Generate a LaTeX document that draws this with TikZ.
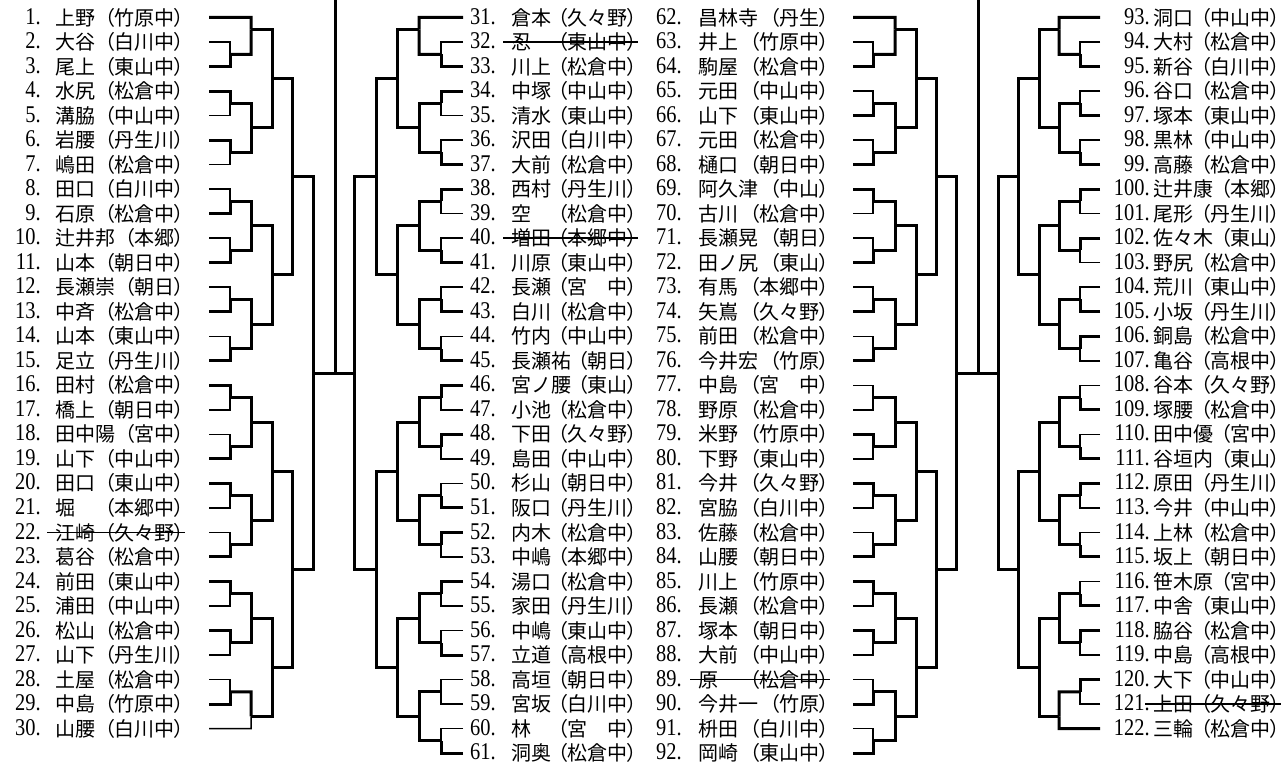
\documentclass[tikz,border=0pt]{standalone}
\usepackage{fontspec}
\setmainfont{Liberation Serif}
\newfontfamily\jpf{Noto Sans CJK JP}
\newfontfamily\jpp[RawFeature=+palt]{Noto Sans CJK JP}
\usetikzlibrary{calc}
\tikzset{
  thk/.style={line width=1.5pt},
  thn/.style={line width=0.75pt},
  numtxt/.style={anchor=east, inner sep=0pt, font=\fontsize{12}{12}\selectfont, text height=0.66em, text depth=0pt},
  nametxt/.style={anchor=west, inner sep=0pt, font=\jpf\fontsize{10}{12}\selectfont, text height=0.83em, text depth=0.07em},
  afftxt/.style={anchor=east, inner sep=0pt, font=\jpf\fontsize{10}{12}\selectfont, text height=0.83em, text depth=0.07em},
  strike/.style={line width=0.7pt}
}
% join: [#1 position of output between the two children], #2 name, #3 child a, #4 child b, #5 x,
% #6 flag (0 both thin, 1 a thick, 2 b thick, 3 both thick)
\newcommand\bj[6][0.5]{%
  \coordinate (x#2) at (#5,0);
  \coordinate (#2) at ($(#3 -| x#2)!#1!(#4 -| x#2)$);
  \ifcase#6 \tikzset{bja/.style=thn,bjb/.style=thn}\or
    \tikzset{bja/.style=thk,bjb/.style=thn}\or
    \tikzset{bja/.style=thn,bjb/.style=thk}\else
    \tikzset{bja/.style=thk,bjb/.style=thk}\fi
  \draw[bja] (#3) -- (#3 -| x#2) -- (#2);
  \draw[bjb] (#4) -- (#4 -| x#2) -- (#2);
}
% entries: #1 first index, #2 x number, #3 x name, #4 x aff end, #5 x leaf, #6 list
\newcommand\qtr[6]{%
  \foreach \i/\nm/\af in {#6} {
    \pgfmathsetmacro\yy{17.5+(\i-#1)*24.52}
    \node[numtxt] (n\i) at (#2,\yy) {\scalebox{0.85}[1]{\i.}};
    \node[nametxt] (m\i) at (#3,\yy) {\nm};
    \node[afftxt] (a\i) at (#4,\yy) {{\jpp（}\af{\jpp）}};
    \coordinate (L\i) at (#5,\yy);
  }}
\begin{document}
\begin{tikzpicture}[x=0.5pt,y=-0.5pt]
\useasboundingbox (0,0) rectangle (1283,765);
\fill[white] (0,0) rectangle (1283,765);

\qtr{1}{41}{55}{185}{209}{1/上野/竹原中,2/大谷/白川中,3/尾上/東山中,4/水尻/松倉中,5/溝脇/中山中,6/岩腰/丹生川,7/嶋田/松倉中,8/田口/白川中,9/石原/松倉中,10/辻井邦/本郷,11/山本/朝日中,12/長瀬崇/朝日,13/中斉/松倉中,14/山本/東山中,15/足立/丹生川,16/田村/松倉中,17/橋上/朝日中,18/田中陽/宮中,19/山下/中山中,20/田口/東山中,21/堀/本郷中,22/江崎/久々野,23/葛谷/松倉中,24/前田/東山中,25/浦田/中山中,26/松山/松倉中,27/山下/丹生川,28/土屋/松倉中,29/中島/竹原中,30/山腰/白川中}

\qtr{31}{496}{511}{638}{463}{31/倉本/久々野,32/忍/東山中,33/川上/松倉中,34/中塚/中山中,35/清水/東山中,36/沢田/白川中,37/大前/松倉中,38/西村/丹生川,39/空/松倉中,40/増田/本郷中,41/川原/東山中,42/長瀬/宮　中,43/白川/松倉中,44/竹内/中山中,45/長瀬祐/朝日,46/宮ノ腰/東山,47/小池/松倉中,48/下田/久々野,49/島田/中山中,50/杉山/朝日中,51/阪口/丹生川,52/内木/松倉中,53/中嶋/本郷中,54/湯口/松倉中,55/家田/丹生川,56/中嶋/東山中,57/立道/高根中,58/高垣/朝日中,59/宮坂/白川中,60/林/宮　中,61/洞奥/松倉中}

\qtr{62}{682}{698}{830}{853}{62/昌林寺/丹生,63/井上/竹原中,64/駒屋/松倉中,65/元田/中山中,66/山下/東山中,67/元田/松倉中,68/樋口/朝日中,69/阿久津/中山,70/古川/松倉中,71/長瀬晃/朝日,72/田ノ尻/東山,73/有馬/本郷中,74/矢嶌/久々野,75/前田/松倉中,76/今井宏/竹原,77/中島/宮　中,78/野原/松倉中,79/米野/竹原中,80/下野/東山中,81/今井/久々野,82/宮脇/白川中,83/佐藤/松倉中,84/山腰/朝日中,85/川上/竹原中,86/長瀬/松倉中,87/塚本/朝日中,88/大前/中山中,89/原/松倉中,90/今井一/竹原,91/枡田/白川中,92/岡崎/東山中}

\qtr{93}{1150}{1153}{1281}{1100}{93/洞口/中山中,94/大村/松倉中,95/新谷/白川中,96/谷口/松倉中,97/塚本/東山中,98/黒林/中山中,99/高藤/松倉中,100/辻井康/本郷,101/尾形/丹生川,102/佐々木/東山,103/野尻/松倉中,104/荒川/東山中,105/小坂/丹生川,106/銅島/松倉中,107/亀谷/高根中,108/谷本/久々野,109/塚腰/松倉中,110/田中優/宮中,111/谷垣内/東山,112/原田/丹生川,113/今井/中山中,114/上林/松倉中,115/坂上/朝日中,116/笹木原/宮中,117/中舎/東山中,118/脇谷/松倉中,119/中島/高根中,120/大下/中山中,121/上田/久々野,122/三輪/松倉中}

% withdrawn entries
\foreach \k in {22,32,40,89,121} {
  \draw[strike] ([xshift=-4pt]m\k.west) -- (a\k.east);
}

% ---- quarter 1 ----
\bj{A1}{L2}{L3}{230}{2}
\bj[0.333]{A2}{L1}{A1}{251}{3}
\bj{A3}{L4}{L5}{230}{1}
\bj{A4}{L6}{L7}{230}{1}
\bj{A5}{A3}{A4}{251}{3}
\bj{A6}{A2}{A5}{272}{3}
\bj{B1}{L8}{L9}{230}{2}
\bj{B2}{L10}{L11}{230}{2}
\bj{B3}{B1}{B2}{251}{3}
\bj{B4}{L12}{L13}{230}{2}
\bj{B5}{L14}{L15}{230}{2}
\bj{B6}{B4}{B5}{251}{3}
\bj{B7}{B3}{B6}{272}{3}
\bj{Q1T}{A6}{B7}{292}{3}
\bj{C1}{L16}{L17}{230}{1}
\bj{C2}{L18}{L19}{230}{2}
\bj{C3}{C1}{C2}{251}{3}
\bj{C4}{L20}{L21}{230}{1}
\bj{C5}{L22}{L23}{230}{2}
\bj{C6}{C4}{C5}{251}{3}
\bj{C7}{C3}{C6}{272}{3}
\bj{D1}{L24}{L25}{230}{1}
\bj{D2}{L26}{L27}{230}{1}
\bj{D3}{D1}{D2}{251}{3}
\bj{D4}{L28}{L29}{230}{2}
\bj[0.667]{D5}{D4}{L30}{251}{1}
\bj{D6}{D3}{D5}{272}{3}
\bj{D7}{C7}{D6}{292}{3}
\bj{Q1R}{Q1T}{D7}{313}{3}
% ---- quarter 2 ----
\bj{E1}{L32}{L33}{441}{2}
\bj[0.333]{E2}{L31}{E1}{419}{3}
\bj{E3}{L34}{L35}{441}{1}
\bj{E4}{L36}{L37}{441}{2}
\bj{E5}{E3}{E4}{419}{3}
\bj{E6}{E2}{E5}{397}{3}
\bj{F1}{L38}{L39}{441}{1}
\bj{F2}{L40}{L41}{441}{2}
\bj{F3}{F1}{F2}{419}{3}
\bj{F4}{L42}{L43}{441}{2}
\bj{F5}{L44}{L45}{441}{2}
\bj{F6}{F4}{F5}{419}{3}
\bj{F7}{F3}{F6}{397}{3}
\bj{Q2T}{E6}{F7}{376}{3}
\bj{G1}{L46}{L47}{441}{1}
\bj{G2}{L48}{L49}{441}{1}
\bj{G3}{G1}{G2}{419}{3}
\bj{G4}{L50}{L51}{441}{2}
\bj{G5}{L52}{L53}{441}{1}
\bj{G6}{G4}{G5}{419}{3}
\bj{G7}{G3}{G6}{397}{3}
\bj{H1}{L54}{L55}{441}{1}
\bj{H2}{L56}{L57}{441}{2}
\bj{H3}{H1}{H2}{419}{3}
\bj{H4}{L58}{L59}{441}{0}
\bj{H5}{L60}{L61}{441}{2}
\bj{H6}{H4}{H5}{419}{3}
\bj{H7}{H3}{H6}{397}{3}
\bj{Q2B}{G7}{H7}{376}{3}
\bj{Q2R}{Q2T}{Q2B}{354}{3}
% ---- quarter 3 ----
\bj{I1}{L63}{L64}{873}{2}
\bj[0.333]{I2}{L62}{I1}{895}{3}
\bj{I3}{L65}{L66}{873}{2}
\bj{I4}{L67}{L68}{873}{2}
\bj{I5}{I3}{I4}{895}{3}
\bj{I6}{I2}{I5}{916}{3}
\bj{K1}{L69}{L70}{873}{1}
\bj{K2}{L71}{L72}{873}{2}
\bj{K3}{K1}{K2}{895}{3}
\bj{K4}{L73}{L74}{873}{2}
\bj{K5}{L75}{L76}{873}{2}
\bj{K6}{K4}{K5}{895}{3}
\bj{K7}{K3}{K6}{916}{3}
\bj{Q3T}{I6}{K7}{936}{3}
\bj{M1}{L77}{L78}{873}{0}
\bj{M2}{L79}{L80}{873}{1}
\bj{M3}{M1}{M2}{895}{3}
\bj{M4}{L81}{L82}{873}{1}
\bj{M5}{L83}{L84}{873}{2}
\bj{M6}{M4}{M5}{895}{3}
\bj{M7}{M3}{M6}{916}{3}
\bj{P1}{L85}{L86}{873}{1}
\bj{P2}{L87}{L88}{873}{1}
\bj{P3}{P1}{P2}{895}{3}
\bj{P4}{L89}{L90}{873}{2}
\bj{P5}{L91}{L92}{873}{2}
\bj{P6}{P4}{P5}{895}{3}
\bj{P7}{P3}{P6}{916}{3}
\bj{Q3B}{M7}{P7}{936}{3}
\bj{Q3R}{Q3T}{Q3B}{956}{3}
% ---- quarter 4 ----
\bj{R1}{L94}{L95}{1080}{2}
\bj[0.333]{R2}{L93}{R1}{1059}{3}
\bj{R3}{L96}{L97}{1080}{2}
\bj{R4}{L98}{L99}{1080}{2}
\bj{R5}{R3}{R4}{1059}{3}
\bj{R6}{R2}{R5}{1039}{3}
\bj{S1}{L100}{L101}{1080}{1}
\bj{S2}{L102}{L103}{1080}{1}
\bj{S3}{S1}{S2}{1059}{3}
\bj{S4}{L104}{L105}{1080}{2}
\bj{S5}{L106}{L107}{1080}{1}
\bj{S6}{S4}{S5}{1059}{3}
\bj{S7}{S3}{S6}{1039}{3}
\bj{Q4T}{R6}{S7}{1018}{3}
\bj{T1}{L108}{L109}{1080}{2}
\bj{T2}{L110}{L111}{1080}{2}
\bj{T3}{T1}{T2}{1059}{3}
\bj{T4}{L112}{L113}{1080}{1}
\bj{T5}{L114}{L115}{1080}{2}
\bj{T6}{T4}{T5}{1059}{3}
\bj{T7}{T3}{T6}{1039}{3}
\bj{U1}{L116}{L117}{1080}{2}
\bj{U2}{L118}{L119}{1080}{1}
\bj{U3}{U1}{U2}{1059}{3}
\bj{U4}{L120}{L121}{1080}{1}
\bj[0.667]{U5}{U4}{L122}{1059}{3}
\bj{U6}{U3}{U5}{1039}{3}
\bj{U7}{T7}{U6}{1018}{3}
\bj{Q4R}{Q4T}{U7}{998}{3}
% ---- semifinal lines ----
\coordinate (SL) at (335,0);
\draw[thk] (Q1R) -- (Q1R -| SL);
\draw[thk] (Q2R) -- (Q2R -| SL);
\draw[thk] (SL) -- (Q1R -| SL);
\coordinate (SR) at (978,0);
\draw[thk] (Q3R) -- (Q3R -| SR);
\draw[thk] (Q4R) -- (Q4R -| SR);
\draw[thk] (SR) -- (Q4R -| SR);
\end{tikzpicture}
\end{document}
